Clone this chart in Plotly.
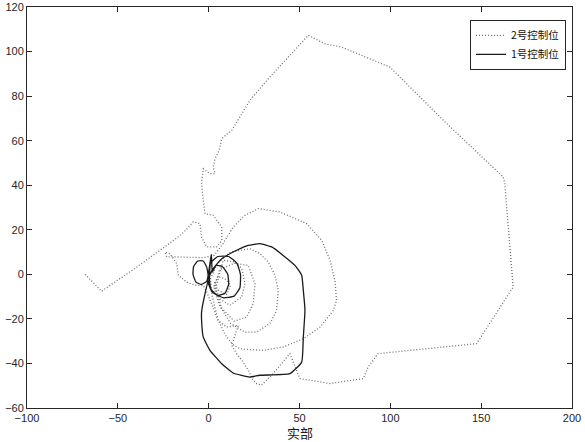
import plotly.graph_objects as go

# 2号控制位 (dotted)
ctrl2_re = [-68, -59, -40, -21.2, -17, -13, -8.5, -4.8, -3.9, -1.1, 4.4, 7.2, 7.2, 2.5, -2,
            -3, -3.9, -3, 0.7, 3.5, 2.5, 3.5, 5.8, 7.2, 12.7, 22.7, 33.7, 45, 54.8, 64,
            73.2, 99.8, 130, 162.1, 163, 167.6, 147.5, 93.3, 87.8, 85.1, 66.8, 50.2, 44.7,
            35.5, 29.1, 26.4, 24.5, 21.8, 19, 15.4, 12.7, 14.5, 16.3, 9.9, 5.1, 2, -1,
            -3, -7.5, -12.1, -16.7, -17.6, -21.3, -24, -23.1, -17.6, -8.5, -3, 3, 7.5,
            13.5, 20, 27.3, 39.2, 53.9, 62.2, 66.8, 69.5, 70.4, 68.6, 61.3, 52.1, 41, 30,
            22.7, 17.2, 13.1, 9, 5, 2, 1, 5, 12, 22.7, 28.2, 32.8, 36.5, 38.3, 37.4,
            33.7, 26.4, 20, 12, 6, 3, 6, 14, 21.8, 25.5, 24.5, 20.9, 14, 7, 4, 8,
            14.5, 18.2, 20, 18.2, 11.7, 6, 3, 5, 9, 12, 10, 5, 3]
ctrl2_im = [0, -7.6, 3, 14, 16.6, 19.5, 23.5, 22.8, 16.7, 12.3, 12.3, 15.3, 21.2, 26.5, 27.2,
            33.2, 40.7, 47.4, 45.2, 45.2, 48.2, 51.9, 55.6, 60.9, 64.6, 78.1, 88.6, 98.5, 107.3, 103.5,
            102, 93, 68.5, 43.7, 40.7, -5.7, -31.1, -35.6, -41.6, -46.8, -49, -46.8, -35.6,
            -44.6, -49.8, -49.1, -47.6, -43.1, -39.4, -35.6, -31.9, -27.4, -22.9, -23.7, -20.6, -14, -8,
            -5, -4.9, -3.5, -0.4, 4.8, 9.3, 10, 7.8, 7.8, 7.8, 7.5, 8.5, 13.3,
            21.2, 26.5, 29.5, 28, 22.8, 15.3, 6.3, -2.7, -11.7, -16.2, -23.7, -28.9, -32.6, -34.1,
            -33.8, -33.4, -31.4, -27, -20, -10, -2, 5, 10, 11.5, 9.3, 5.5, -0.4, -7.2, -16.2,
            -22.1, -25.9, -26, -22, -14, -6, 2, 5, 4, -4.2, -13.2, -19.2, -21, -15, -6, 6.3,
            5.5, 2.6, -4.2, -10.2, -13.9, -11, -5, -1, -2, -5, -9, -7, -3]

# 1号控制位 (solid)
ctrl1_re = [0, -1, -3, -6, -8.3, -8.6, -7, -4, -1, 1.5, 2,
            4, 7.5, 10.5, 11, 9, 5, 1.5, 0.5,
            1, 5, 11, 15.5, 17.5, 17.2, 14, 8, 2, -0.5,
            2, 7.2, 15.4, 21.8, 28.2, 34.7, 41, 47.5, 51.2, 52.1, 53, 52.1, 51.2, 44.7,
            28.2, 22.7, 13.5, 7.2, 0.7, -3, -3.9, -3.9, -2, -0.2, 1]
ctrl1_im = [-2, 3, 6, 6, 3.5, 0, -3.5, -4.5, -3, 9, 1,
            4, 3.5, 0, -4.5, -8.5, -9.5, -7, -3,
            5, 8, 8, 5, 0, -6, -9.8, -10.5, -8, -3,
            2, 7, 10.8, 13, 13.8, 12.3, 8.5, 4, -0.4, -7.2, -16.2, -28.1, -39.4, -44.6,
            -45.3, -46.1, -44.3, -40.1, -34.1, -28.1, -20.6, -16.9, -8.7, -2.7, -6]

x_ticks = [-100, -50, 0, 50, 100, 150, 200]
y_ticks = [-60, -40, -20, 0, 20, 40, 60, 80, 100, 120]

# ── Plot ─────────────────────────────────────────────────────────────────────

AXIS_COLOR = "#262626"

fig = go.Figure()

fig.add_trace(go.Scatter(
    x=ctrl2_re, y=ctrl2_im,
    mode="lines",
    name="2号控制位",
    line=dict(color="#6e6e6e", width=1.3, dash="1px,2px"),
))

fig.add_trace(go.Scatter(
    x=ctrl1_re, y=ctrl1_im,
    mode="lines",
    name="1号控制位",
    line=dict(color="#1a1a1a", width=1.3, shape="spline", smoothing=0.4),
))

axis_common = dict(
    showline=True,
    linecolor=AXIS_COLOR,
    linewidth=1,
    mirror="ticks",
    ticks="inside",
    ticklen=5,
    tickcolor=AXIS_COLOR,
    showgrid=False,
    zeroline=False,
    automargin=False,
    tickfont=dict(family="Liberation Sans, Arial", size=11, color="#262626"),
)

fig.update_layout(
    width=585,
    height=442,
    margin=dict(l=27, r=13, t=7, b=34),
    paper_bgcolor="white",
    plot_bgcolor="white",
    showlegend=True,
    legend=dict(
        x=0.989, y=0.968,
        xanchor="right", yanchor="top",
        bgcolor="white",
        bordercolor="#262626",
        borderwidth=1,
        font=dict(family="Noto Sans CJK SC", size=10.5, color="#111111"),
        tracegroupgap=0,
        itemwidth=30,
    ),
    xaxis=dict(range=[-100, 200], tickvals=x_ticks, **axis_common),
    yaxis=dict(range=[-60, 120], tickvals=y_ticks, **axis_common),
    annotations=[dict(
        text="实部",
        x=0.5, y=-0.06,
        xref="paper", yref="paper",
        xanchor="center", yanchor="middle",
        showarrow=False,
        font=dict(family="Noto Sans CJK SC", size=13, color="#1a1a1a"),
    )],
)

# the page body has a default 8px margin; drop it so the figure sits at 0,0
fig.write_html(
    "out.html",
    config={"displayModeBar": False},
    post_script="document.body.style.margin='0';",
)
